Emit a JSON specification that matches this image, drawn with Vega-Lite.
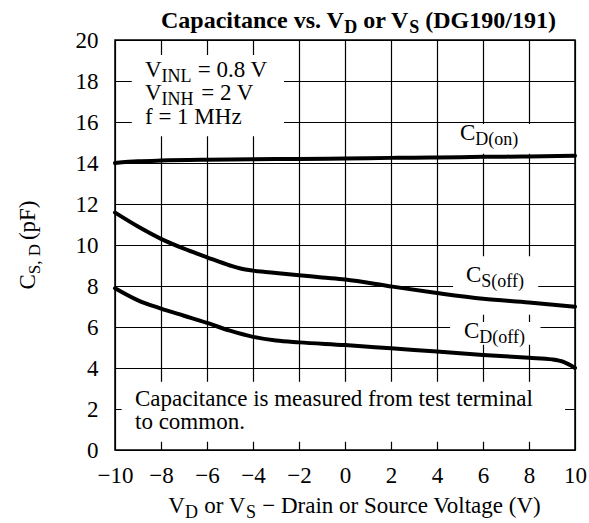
{
  "$schema": "https://vega.github.io/schema/vega-lite/v6.json",
  "width": 460,
  "height": 410,
  "autosize": {"type": "none"},
  "padding": {"left": 115, "top": 40, "right": 14, "bottom": 73},
  "background": "white",
  "config": {
    "view": {"stroke": "black", "strokeWidth": 1.5},
    "axis": {
      "grid": true,
      "gridColor": "black",
      "gridWidth": 1.2,
      "gridOpacity": 1,
      "ticks": false,
      "tickSize": 0,
      "domain": false,
      "labelFont": "Liberation Serif",
      "labelFontSize": 23,
      "labelColor": "black"
    },
    "text": {"font": "Liberation Serif", "color": "black", "align": "left", "baseline": "alphabetic"}
  },
  "datasets": {
    "curves": [
      {"series": "CD(on)", "x": -10, "y": 14.0},
      {"series": "CD(on)", "x": -9, "y": 14.08},
      {"series": "CD(on)", "x": -8, "y": 14.12},
      {"series": "CD(on)", "x": -6, "y": 14.16},
      {"series": "CD(on)", "x": -4, "y": 14.18},
      {"series": "CD(on)", "x": -2, "y": 14.2},
      {"series": "CD(on)", "x": 0, "y": 14.22},
      {"series": "CD(on)", "x": 2, "y": 14.25},
      {"series": "CD(on)", "x": 4, "y": 14.27},
      {"series": "CD(on)", "x": 6, "y": 14.3},
      {"series": "CD(on)", "x": 8, "y": 14.32},
      {"series": "CD(on)", "x": 10, "y": 14.35},
      {"series": "CS(off)", "x": -10, "y": 11.58},
      {"series": "CS(off)", "x": -9, "y": 10.9},
      {"series": "CS(off)", "x": -8, "y": 10.3},
      {"series": "CS(off)", "x": -7, "y": 9.82},
      {"series": "CS(off)", "x": -6, "y": 9.4},
      {"series": "CS(off)", "x": -5, "y": 9.0},
      {"series": "CS(off)", "x": -4.5, "y": 8.84},
      {"series": "CS(off)", "x": -4, "y": 8.75},
      {"series": "CS(off)", "x": -3, "y": 8.63},
      {"series": "CS(off)", "x": -2, "y": 8.53},
      {"series": "CS(off)", "x": -1, "y": 8.42},
      {"series": "CS(off)", "x": 0, "y": 8.32},
      {"series": "CS(off)", "x": 2, "y": 7.98},
      {"series": "CS(off)", "x": 4, "y": 7.66},
      {"series": "CS(off)", "x": 6, "y": 7.38},
      {"series": "CS(off)", "x": 8, "y": 7.2},
      {"series": "CS(off)", "x": 10, "y": 6.99},
      {"series": "CD(off)", "x": -10, "y": 7.89},
      {"series": "CD(off)", "x": -9, "y": 7.3},
      {"series": "CD(off)", "x": -8, "y": 6.9},
      {"series": "CD(off)", "x": -7, "y": 6.55},
      {"series": "CD(off)", "x": -6, "y": 6.2},
      {"series": "CD(off)", "x": -5, "y": 5.82},
      {"series": "CD(off)", "x": -4, "y": 5.52},
      {"series": "CD(off)", "x": -3, "y": 5.34},
      {"series": "CD(off)", "x": -2, "y": 5.25},
      {"series": "CD(off)", "x": 0, "y": 5.12},
      {"series": "CD(off)", "x": 2, "y": 4.96},
      {"series": "CD(off)", "x": 4, "y": 4.8},
      {"series": "CD(off)", "x": 6, "y": 4.64},
      {"series": "CD(off)", "x": 8, "y": 4.5},
      {"series": "CD(off)", "x": 9, "y": 4.42},
      {"series": "CD(off)", "x": 9.5, "y": 4.3},
      {"series": "CD(off)", "x": 10, "y": 4.0}
    ],
    "boxes": [
      {"x": -9.27, "x2": -2.65, "y": 15.3, "y2": 19.27},
      {"x": 4.5, "x2": 8.6, "y": 14.45, "y2": 15.9},
      {"x": 4.7, "x2": 8.4, "y": 6.6, "y2": 9.45},
      {"x": 4.57, "x2": 8.5, "y": 5.13, "y2": 6.24},
      {"x": -9.71, "x2": 9.57, "y": 0.4, "y2": 3.33}
    ],
    "textMain": [
      {"text": "V", "x": -8.696, "y": 18.2},
      {"text": "= 0.8 V", "x": -6.4, "y": 18.2},
      {"text": "V", "x": -8.696, "y": 17.05},
      {"text": "= 2 V", "x": -6.25, "y": 17.05},
      {"text": "f = 1 MHz", "x": -8.696, "y": 15.9},
      {"text": "C", "x": 5.0, "y": 15.12},
      {"text": "C", "x": 5.261, "y": 8.195},
      {"text": "C", "x": 5.174, "y": 5.463},
      {"text": "Capacitance is measured from test terminal", "x": -9.13, "y": 2.15},
      {"text": "to common.", "x": -9.13, "y": 1.02},
      {"text": "V", "x": -7.683, "y": -3.06},
      {"text": "or V", "x": -6.115, "y": -3.06},
      {"text": "− Drain or Source Voltage (V)", "x": -3.598, "y": -3.06}
    ],
    "textSub": [
      {"text": "INL", "x": -7.974, "y": 18.2},
      {"text": "INH", "x": -7.974, "y": 17.05},
      {"text": "D(on)", "x": 5.665, "y": 15.12},
      {"text": "S(off)", "x": 5.926, "y": 8.195},
      {"text": "D(off)", "x": 5.839, "y": 5.463},
      {"text": "D", "x": -6.961, "y": -3.06},
      {"text": "S", "x": -4.309, "y": -3.06}
    ],
    "titleMain": [
      {"text": "Capacitance vs. V", "x": -8.0, "y": 20.585},
      {"text": "or V", "x": 0.796, "y": 20.585},
      {"text": "(DG190/191)", "x": 3.491, "y": 20.585}
    ],
    "titleSub": [
      {"text": "D", "x": -0.03, "y": 20.585},
      {"text": "S", "x": 2.796, "y": 20.585}
    ],
    "yTitleMain": [
      {"text": "C", "x": -13.478, "y": 7.83},
      {"text": "(pF)", "x": -13.478, "y": 10.24}
    ],
    "yTitleSub": [
      {"text": "S, D", "x": -13.478, "y": 8.576}
    ]
  },
  "encoding": {
    "x": {
      "field": "x",
      "type": "quantitative",
      "scale": {"domain": [-10, 10], "nice": false, "zero": false},
      "axis": {"values": [-10, -8, -6, -4, -2, 0, 2, 4, 6, 8, 10], "title": null, "labelPadding": 14, "labelFlush": false}
    },
    "y": {
      "field": "y",
      "type": "quantitative",
      "scale": {"domain": [0, 20], "nice": false, "zero": false},
      "axis": {"values": [0, 2, 4, 6, 8, 10, 12, 14, 16, 18, 20], "title": null, "labelPadding": 17, "labelFlush": false}
    }
  },
  "layer": [
    {
      "data": {"name": "boxes"},
      "mark": {"type": "rect", "fill": "white", "stroke": null},
      "encoding": {"x2": {"field": "x2"}, "y2": {"field": "y2"}}
    },
    {
      "data": {"name": "curves"},
      "mark": {"type": "line", "color": "black", "strokeWidth": 4, "interpolate": "monotone", "strokeCap": "round"},
      "encoding": {"detail": {"field": "series"}}
    },
    {
      "data": {"name": "textMain"},
      "mark": {"type": "text", "fontSize": 23},
      "encoding": {"text": {"field": "text"}}
    },
    {
      "data": {"name": "textSub"},
      "mark": {"type": "text", "fontSize": 18, "dy": 5},
      "encoding": {"text": {"field": "text"}}
    },
    {
      "data": {"name": "titleMain"},
      "mark": {"type": "text", "fontSize": 24, "fontWeight": "bold"},
      "encoding": {"text": {"field": "text"}}
    },
    {
      "data": {"name": "titleSub"},
      "mark": {"type": "text", "fontSize": 18, "fontWeight": "bold", "dy": 5},
      "encoding": {"text": {"field": "text"}}
    },
    {
      "data": {"name": "yTitleMain"},
      "mark": {"type": "text", "fontSize": 23, "angle": 270},
      "encoding": {"text": {"field": "text"}}
    },
    {
      "data": {"name": "yTitleSub"},
      "mark": {"type": "text", "fontSize": 17, "angle": 270, "dy": 5},
      "encoding": {"text": {"field": "text"}}
    }
  ]
}
